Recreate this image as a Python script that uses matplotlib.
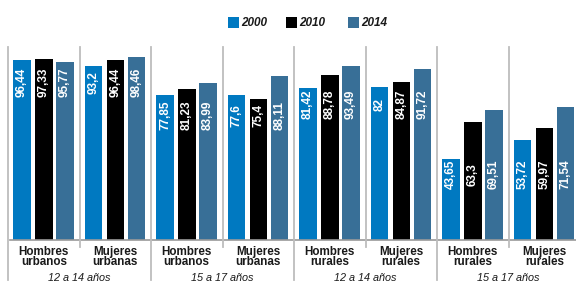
import matplotlib
matplotlib.use("Agg")
import matplotlib.pyplot as plt
from matplotlib.patches import Rectangle
from matplotlib import font_manager

# --- data
groups = ["Hombres\nurbanos", "Mujeres\nurbanas", "Hombres\nurbanos", "Mujeres\nurbanas",
          "Hombres\nrurales", "Mujeres\nrurales", "Hombres\nrurales", "Mujeres\nrurales"]
ages = ["12 a 14 años", "15 a 17 años", "12 a 14 años", "15 a 17 años"]
years = ["2000", "2010", "2014"]
v2000 = [96.44, 93.2, 77.85, 77.6, 81.42, 82, 43.65, 53.72]
v2010 = [97.33, 96.44, 81.23, 75.4, 88.78, 84.87, 63.3, 59.97]
v2014 = [95.77, 98.46, 83.99, 88.11, 93.49, 91.72, 69.51, 71.54]
colors = ["#0079C1", "#000000", "#386F97"]

names = {f.name for f in font_manager.fontManager.ttflist}
narrow = "Liberation Sans Narrow" if "Liberation Sans Narrow" in names else "Liberation Sans"
plt.rcParams["font.family"] = ["Liberation Sans", "DejaVu Sans"]
nfam = [narrow, "DejaVu Sans"]

W, H = 576, 284
fig = plt.figure(figsize=(W / 100, H / 100), dpi=100)
ax = fig.add_axes([8 / W, 44 / H, 572 / W, 194 / H])
ax.set_xlim(0, 8)
ax.set_ylim(0, 104.1)
ax.axis("off")

series = [v2000, v2010, v2014]
offsets = [0.196, 0.503, 0.797]
bw = 0.25

# label centre per age block: a bit under the lowest bar of the block
block_min = [min(min(s[2 * b], s[2 * b + 1]) for s in series) for b in range(4)]

for j, vals in enumerate(series):
    for i, v in enumerate(vals):
        x = i + offsets[j]
        ax.bar(x, v, width=bw, color=colors[j], linewidth=0)
        txt = f"{v:g}".replace(".", ",")
        ax.text(x, block_min[i // 2] - 8.5, txt, rotation=90, color="white",
                ha="center", va="center", fontsize=8.5, fontweight="bold", family=nfam)

# baseline and separators
ax.plot([0.03, 8], [0, 0], color="#9A9A9A", lw=1.2, clip_on=False)
tr = ax.get_xaxis_transform()
for k in range(9):
    low = -0.206 if k % 2 == 0 else -0.036
    ax.plot([k, k], [low, 0.995], transform=tr, color="#BDBDBD", lw=1.3, clip_on=False)

# category labels
for i, g in enumerate(groups):
    ax.text(i + 0.5, -0.03, g, transform=tr, ha="center", va="top", fontsize=8.4,
            fontweight="bold", color="#1a1a1a", linespacing=0.75, family=nfam)
for b, a in enumerate(ages):
    ax.text(2 * b + 1, -0.197, a, transform=tr, ha="center", va="center", fontsize=7.8,
            fontstyle="italic", color="#1a1a1a")

# legend
for j, y in enumerate(years):
    x0 = [228, 286, 348][j]
    fig.patches.append(Rectangle((x0 / W, 1 - 28 / H), 11 / W, 11 / H,
                                 transform=fig.transFigure, color=colors[j], lw=0))
    fig.text((x0 + 13) / W, 1 - 22.5 / H, y, ha="left", va="center", fontsize=8.5,
             fontweight="bold", fontstyle="italic", color="#1a1a1a", family=nfam)

fig.savefig("out.png", dpi=100)
